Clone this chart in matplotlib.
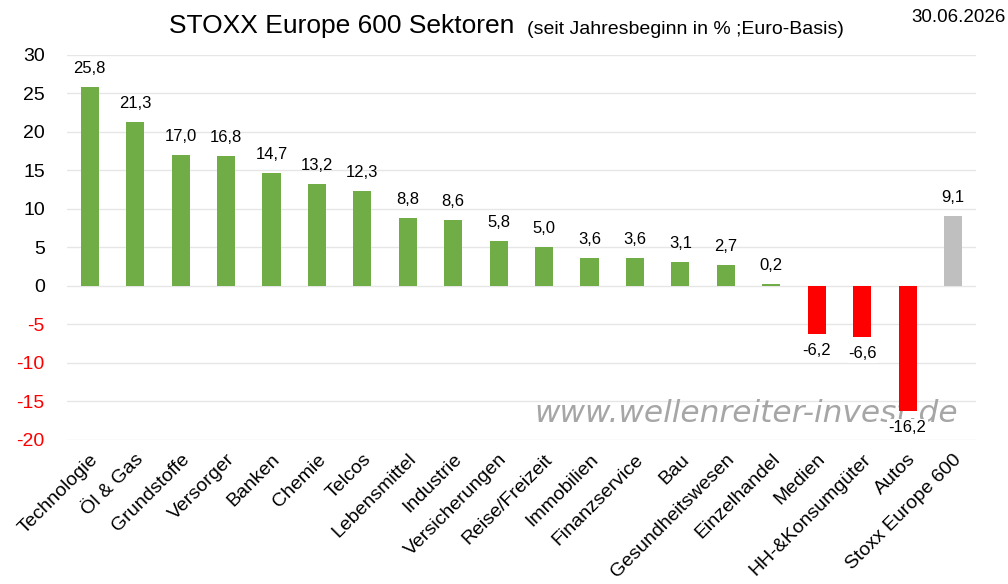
import matplotlib.pyplot as plt
from matplotlib import font_manager

# Daten (seit Jahresbeginn in %, Euro-Basis)
sektoren = ['Technologie', 'Öl & Gas', 'Grundstoffe', 'Versorger', 'Banken', 'Chemie',
            'Telcos', 'Lebensmittel', 'Industrie', 'Versicherungen', 'Reise/Freizeit',
            'Immobilien', 'Finanzservice', 'Bau', 'Gesundheitswesen', 'Einzelhandel',
            'Medien', 'HH-&Konsumgüter', 'Autos', 'Stoxx Europe 600']
werte = [25.8, 21.3, 17.0, 16.8, 14.7, 13.2, 12.3, 8.8, 8.6, 5.8, 5.0,
         3.6, 3.6, 3.1, 2.7, 0.2, -6.2, -6.6, -16.2, 9.1]
y_ticks = [30, 25, 20, 15, 10, 5, 0, -5, -10, -15, -20]

# schmale Schrift, falls vorhanden
namen = {f.name for f in font_manager.fontManager.ttflist}
schrift = 'Liberation Sans Narrow' if 'Liberation Sans Narrow' in namen else 'Liberation Sans'
plt.rcParams['font.family'] = [schrift, 'DejaVu Sans']

farben = []
for name, w in zip(sektoren, werte):
    if name == 'Stoxx Europe 600':
        farben.append('#BFBFBF')
    elif w < 0:
        farben.append('#FF0000')
    else:
        farben.append('#70AD47')

fig = plt.figure(figsize=(10.08, 5.84), dpi=100)
ax = fig.add_axes([0.0665, 0.247, 0.9015, 0.659])

x = range(len(sektoren))
ax.bar(x, werte, width=0.4, color=farben, zorder=3)

# Werte an den Balken
for i, w in enumerate(werte):
    txt = f'{w:.1f}'.replace('.', ',')
    if w >= 0:
        ax.annotate(txt, (i, w), xytext=(0, 8), textcoords='offset points',
                    ha='center', va='bottom', fontsize=12, zorder=5)
    else:
        ax.annotate(txt, (i, w), xytext=(0, -7), textcoords='offset points',
                    ha='center', va='top', fontsize=12, zorder=5,
                    bbox=dict(facecolor='white', edgecolor='none', pad=1))

ax.set_xlim(-0.5, len(sektoren) - 0.5)
ax.set_ylim(-20, 30)
ax.set_yticks(y_ticks)
ax.set_yticklabels([str(t) for t in y_ticks], fontsize=14)
for lbl, t in zip(ax.get_yticklabels(), y_ticks):
    if t < 0:
        lbl.set_color('#FF0000')
ax.tick_params(axis='y', length=0, pad=16)
ax.tick_params(axis='x', length=0, pad=8)
ax.set_xticks(list(x))
ax.set_xticklabels(sektoren, rotation=45, ha='right', rotation_mode='anchor', fontsize=14)

ax.grid(axis='y', color='#E6E6E6', linewidth=1, zorder=0)
for s in ax.spines.values():
    s.set_visible(False)

# Wasserzeichen
ax.text(14.45, -16.6, 'www.wellenreiter-invest.de', fontsize=22.5, color='#A6A6A6',
        style='italic', ha='center', va='center', zorder=2, family='DejaVu Sans')

# Titel
fig.text(0.168, 0.955, 'STOXX Europe 600 Sektoren', fontsize=19, ha='left', va='center')
fig.text(0.523, 0.950, '(seit Jahresbeginn in % ;Euro-Basis)', fontsize=14, ha='left', va='center')
fig.text(0.998, 0.970, '30.06.2026', fontsize=13.5, ha='right', va='center')

fig.savefig('out.png', dpi=100)
